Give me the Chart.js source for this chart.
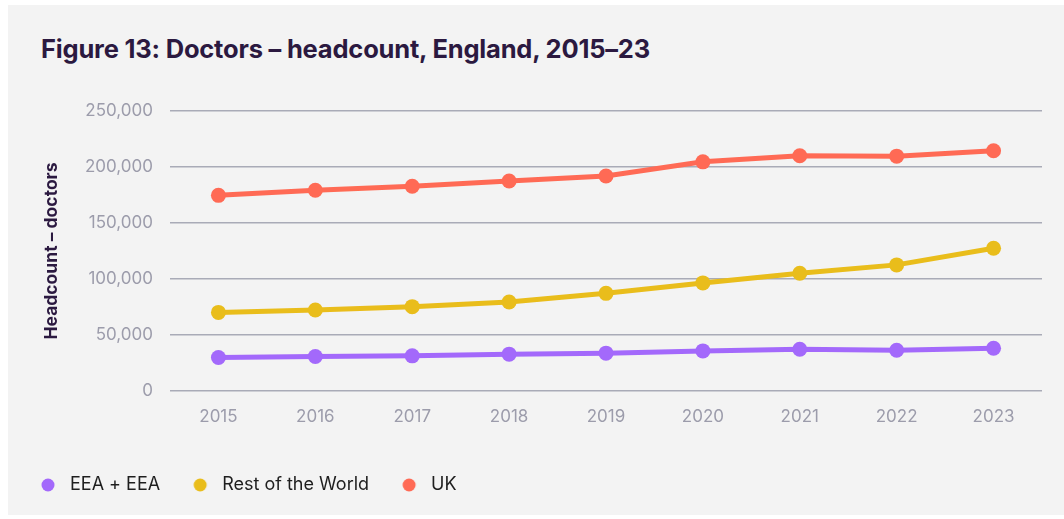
<!DOCTYPE html>
<html>
<head>
<meta charset="utf-8">
<script src="https://cdn.jsdelivr.net/npm/chart.js@4"></script>
<style>
  body { margin: 0; background: #fff; width: 1064px; height: 519px; overflow: hidden; position: relative; font-family: Inter, sans-serif; }
  .panel { position: absolute; left: 8px; top: 5px; width: 1056px; height: 510px; background: #f3f3f3; }
  h1 { position: absolute; left: 41px; top: 33px; margin: 0; font-size: 25.5px; font-weight: 700; color: #2b1940; letter-spacing: -0.2px; }
  .wrap { position: absolute; left: 8px; top: 80px; width: 1056px; height: 424px; }
</style>
</head>
<body>
<div class="panel"></div>
<h1>Figure 13: Doctors – headcount, England, 2015–23</h1>
<div class="wrap"><canvas id="chart"></canvas></div>
<script>
const years = ['2015', '2016', '2017', '2018', '2019', '2020', '2021', '2022', '2023'];
const eea = [29900, 30800, 31400, 32900, 33800, 35800, 37300, 36400, 38200];
const restOfWorld = [70200, 72300, 75300, 79500, 87200, 96500, 105100, 112600, 127500];
const uk = [174700, 179200, 182800, 187500, 192000, 204600, 210000, 209700, 214500];
const yTicks = [0, 50000, 100000, 150000, 200000, 250000];

const tickColor = '#9c9cab';
const gridColor = '#a9abb7';

function series(label, data, color) {
    return {
        label: label,
        data: data,
        borderColor: color,
        backgroundColor: color,
        borderWidth: 5,
        pointRadius: 7.5,
        pointHoverRadius: 7.5,
        pointBorderWidth: 0,
        tension: 0,
    };
}

// legend dot, drawn a little left of centre so the text sits further from it
function legendDot(color) {
    const c = document.createElement('canvas');
    c.width = 26;
    c.height = 14;
    const g = c.getContext('2d');
    g.fillStyle = color;
    g.beginPath();
    g.arc(9, 7, 6.5, 0, Math.PI * 2);
    g.fill();
    return c;
}

const ctx = document.getElementById('chart');
new Chart(ctx, {
    type: 'line',
    data: {
        labels: years,
        datasets: [
            series('EEA + EEA', eea, '#a369fb'),
            series('Rest of the World', restOfWorld, '#e9bd1b'),
            series('UK', uk, '#ff6a55'),
        ],
    },
    options: {
        responsive: true,
        maintainAspectRatio: false,
        animation: false,
        layout: { padding: { top: 31, right: 22, left: 0, bottom: 0 } },
        plugins: {
            legend: {
                display: true,
                position: 'bottom',
                align: 'start',
                labels: {
                    usePointStyle: true,
                    padding: 35,
                    color: '#1e1e1e',
                    font: { family: 'Inter', size: 18 },
                    generateLabels: function (chart) {
                        const items = Chart.defaults.plugins.legend.labels.generateLabels(chart);
                        items.forEach(function (item) {
                            item.pointStyle = legendDot(item.fillStyle);
                        });
                        return items;
                    },
                },
            },
            tooltip: { enabled: false },
        },
        scales: {
            x: {
                offset: true,
                grid: { display: false, drawTicks: false },
                border: { display: false },
                ticks: {
                    color: tickColor,
                    padding: 16,
                    font: { family: 'Inter', size: 17 },
                },
                afterFit: function (scale) {
                    scale.height = 50;
                },
            },
            y: {
                min: 0,
                max: 250000,
                afterBuildTicks: function (scale) {
                    scale.ticks = yTicks.map(function (v) { return { value: v }; });
                },
                grid: { color: gridColor, lineWidth: 1.5, drawTicks: false },
                border: { display: false },
                ticks: {
                    color: tickColor,
                    padding: 17,
                    font: { family: 'Inter', size: 17 },
                    callback: function (value) {
                        return value.toLocaleString('en-GB');
                    },
                },
                title: {
                    display: true,
                    text: 'Headcount – doctors',
                    color: '#2b1940',
                    padding: { top: 33, bottom: 0 },
                    font: { family: 'Inter', size: 17.5, weight: 'bold' },
                },
                afterFit: function (scale) {
                    scale.width = 162;
                },
            },
        },
    },
});
</script>
</body>
</html>
